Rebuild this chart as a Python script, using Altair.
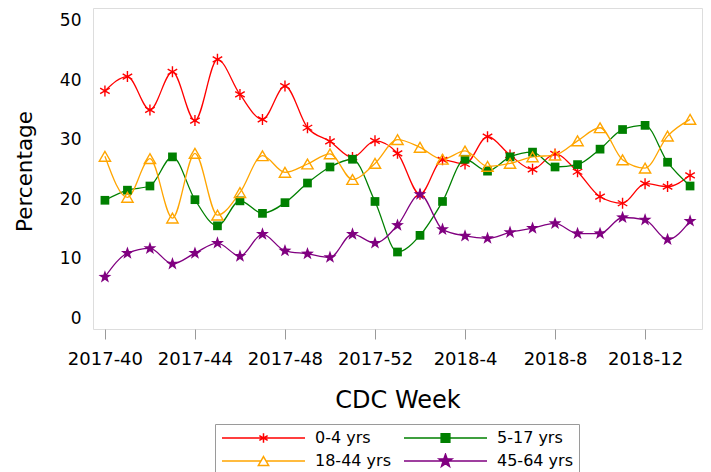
import math
import altair as alt
import pandas as pd

# ---------------- data ----------------
weeks = ["2017-40", "2017-41", "2017-42", "2017-43", "2017-44", "2017-45", "2017-46",
         "2017-47", "2017-48", "2017-49", "2017-50", "2017-51", "2017-52",
         "2018-1", "2018-2", "2018-3", "2018-4", "2018-5", "2018-6", "2018-7",
         "2018-8", "2018-9", "2018-10", "2018-11", "2018-12", "2018-13", "2018-14"]

groups = ["0-4 yrs", "5-17 yrs", "18-44 yrs", "45-64 yrs"]

age_0_4 = [38.2, 40.6, 35.0, 41.4, 33.2, 43.5, 37.6, 33.4, 39.0, 32.0, 29.7, 27.0, 29.8,
           27.7, 20.8, 26.6, 25.9, 30.5, 27.4, 25.0, 27.6, 24.6, 20.4, 19.3, 22.6, 22.1, 24.0]
age_5_17 = [19.8, 21.5, 22.2, 27.1, 19.9, 15.5, 19.7, 17.6, 19.4, 22.7, 25.4, 26.7, 19.6,
            11.1, 13.9, 19.6, 26.7, 24.7, 27.1, 27.9, 25.4, 25.8, 28.4, 31.7, 32.4, 26.2, 22.2]
age_18_44 = [27.2, 20.3, 26.8, 16.8, 27.7, 17.3, 21.1, 27.3, 24.5, 25.9, 27.6, 23.3, 26.0,
             30.0, 28.7, 26.7, 28.1, 25.5, 26.0, 27.1, 27.4, 29.8, 32.0, 26.6, 25.2, 30.6, 33.4]
age_45_64 = [6.9, 10.9, 11.7, 9.1, 10.9, 12.6, 10.4, 14.1, 11.3, 10.8, 10.2, 14.1, 12.6,
             15.6, 20.8, 14.9, 13.8, 13.4, 14.4, 15.1, 15.9, 14.2, 14.2, 16.9, 16.5, 13.2, 16.3]

x_tick_values = [0, 4, 8, 12, 16, 20, 24]
y_tick_values = [0, 10, 20, 30, 40, 50]

series = [age_0_4, age_5_17, age_18_44, age_45_64]
rows = []
for g, vals in zip(groups, series):
    for i, (w, v) in enumerate(zip(weeks, vals)):
        rows.append({"idx": i, "week": w, "group": g, "pct": v})
df = pd.DataFrame(rows)

# ---------------- styles ----------------
FONT = "DejaVu Sans"
colors = ["#ff0000", "#008000", "#ffa500", "#800080"]
legend_fills = ["#ff0000", "#008000", "transparent", "#800080"]
FRAME = "#9a9a9a"


def fmt(v):
    s = f"{v:.4f}".rstrip("0").rstrip(".")
    return "0" if s in ("-0", "") else s


def star(r, inner=0.4):
    pts = []
    for k in range(10):
        ang = math.radians(-90 + 36 * k)
        rr = r if k % 2 == 0 else r * inner
        pts.append((rr * math.cos(ang), rr * math.sin(ang)))
    return "M" + "L".join(f"{fmt(x)},{fmt(y)}" for x, y in pts) + "Z"


def asterisk(r):
    p = f"M0,{fmt(-r)}L0,{fmt(r)}"
    for a in (30, -30):
        c, s = r * math.cos(math.radians(a)), r * math.sin(math.radians(a))
        p += f"M{fmt(-c)},{fmt(-s)}L{fmt(c)},{fmt(s)}"
    return p


def triangle(hw):
    h = hw * math.sqrt(3) / 2
    return f"M0,{fmt(-h)}L{fmt(hw)},{fmt(h)}L{fmt(-hw)},{fmt(h)}Z"


def square(h):
    return f"M{fmt(-h)},{fmt(-h)}L{fmt(h)},{fmt(-h)}L{fmt(h)},{fmt(h)}L{fmt(-h)},{fmt(h)}Z"


# plot markers (unit paths, scaled by size)
marker_shapes = [asterisk(1), "square", "triangle-up", star(1)]
marker_sizes = [121, 76, 128, 185]
marker_filled = [False, True, False, True]

# legend symbols: a line with the marker in its middle; scale K px per unit
K = 41.5
legend_paths = [
    "M-1,0L1,0" + asterisk(4.8 / K),
    "M-1,0L1,0" + square(4.35 / K),
    f"M-1,0L{fmt(-2.6 / K)},0M{fmt(2.6 / K)},0L1,0" + triangle(5.15 / K),
    "M-1,0L1,0" + star(6.8 / K),
]

x_axis = alt.Axis(values=x_tick_values, labelExpr="[" + ",".join(f"'{w}'" for w in weeks) + "][datum.value]",
                  title="CDC Week", grid=False, domain=False, ticks=True, tickSize=10,
                  tickColor=FRAME, tickWidth=1, labelFont=FONT, labelFontSize=18, labelColor="black",
                  labelPadding=11, labelFlush=False, labelOverlap=False,
                  titleFont=FONT, titleFontSize=24, titleFontWeight="normal", titleColor="black",
                  titleBaseline="alphabetic", titleAlign="center", titleX=304.5, titleY=78)
y_axis = alt.Axis(values=y_tick_values, title="Percentage", grid=False, domain=False, ticks=False,
                  labelFont=FONT, labelFontSize=17, labelColor="black", labelPadding=12,
                  labelFlush=False, titleFont=FONT, titleFontSize=21.5, titleFontWeight="normal",
                  titleColor="black", titleAngle=270, titleBaseline="alphabetic", titleAlign="center",
                  titleX=-62, titleY=163)

x_enc = alt.X("idx:Q", scale=alt.Scale(domain=[-0.53, 26.53], nice=False, zero=False), axis=x_axis)
y_enc = alt.Y("pct:Q", scale=alt.Scale(domain=[-1.85, 52.14], nice=False, zero=False), axis=y_axis)

base = alt.Chart(df)

layers = []
for g, c in zip(groups, colors):
    layers.append(
        base.transform_filter(alt.datum.group == g)
        .mark_line(interpolate="monotone", strokeWidth=1.3, color=c)
        .encode(x=x_enc, y=y_enc)
    )
for g, c, shp, sz, fl in zip(groups, colors, marker_shapes, marker_sizes, marker_filled):
    layers.append(
        base.transform_filter(alt.datum.group == g)
        .mark_point(shape=shp, size=sz, filled=fl, color=c, opacity=1, strokeWidth=1.4)
        .encode(x=x_enc, y=y_enc)
    )

legend_def = alt.Legend(title=None, orient="none", legendX=122, legendY=416, columns=2,
                        direction="horizontal",
                        symbolSize=K * K * 4, clipHeight=16, symbolStrokeWidth=1.5,
                        symbolFillColor="white", symbolStrokeColor="black", symbolOpacity=1,
                        symbolOffset=0, labelOffset=9, columnPadding=12, rowPadding=7, padding=6,
                        strokeColor=FRAME, labelFont=FONT, labelFontSize=16, labelColor="black")

# invisible layer that only carries the legend
legend_layer = base.mark_point(filled=False, opacity=0, strokeWidth=1.5).encode(
    x=x_enc, y=y_enc,
    stroke=alt.Stroke("group:N", scale=alt.Scale(domain=groups, range=colors), legend=legend_def),
    fill=alt.Fill("group:N", scale=alt.Scale(domain=groups, range=legend_fills), legend=legend_def),
    shape=alt.Shape("group:N", scale=alt.Scale(domain=groups, range=legend_paths), legend=legend_def),
)
layers.append(legend_layer)

chart = alt.layer(*layers).properties(
    width=609, height=321,
    autosize=alt.AutoSizeParams(type="none"),
    padding={"left": 85, "top": 0, "right": 1, "bottom": 143},
).configure_view(stroke=FRAME, strokeWidth=1).configure(font=FONT)

chart.save("out.html", embed_options={"renderer": "svg", "actions": False})
